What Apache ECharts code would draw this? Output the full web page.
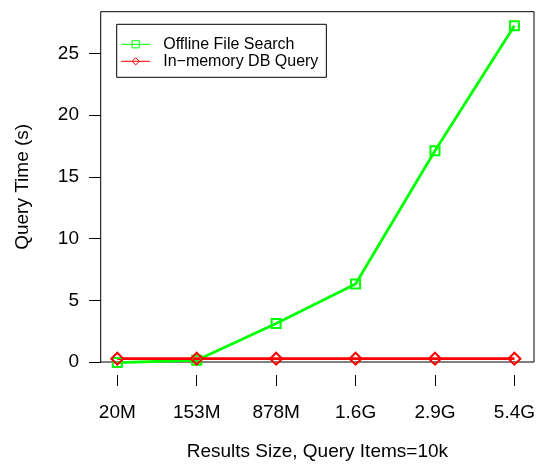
<!DOCTYPE html>
<html>
<head>
<meta charset="utf-8">
<script src="https://cdn.jsdelivr.net/npm/echarts@6/dist/echarts.min.js"></script>
<style>
html,body{margin:0;padding:0;background:#fff;}
#chart{width:538px;height:466px;}
</style>
</head>
<body>
<div id="chart"></div>
<script>
var categories = ['20M', '153M', '878M', '1.6G', '2.9G', '5.4G'];
var offlineFileSearch = [-0.05, 0.14, 3.12, 6.32, 17.12, 27.25];
var inMemoryDbQuery = [0.27, 0.27, 0.27, 0.27, 0.27, 0.27];
var seriesNames = ['Offline File Search', 'In\u2212memory DB Query'];
var yTicks = [0, 25, 5]; // min, max, interval

var FONT = 'Liberation Sans, Arial, Helvetica, sans-serif';
var chart = echarts.init(document.getElementById('chart'), null, {renderer: 'canvas'});

var hiddenAxisBase = {
  axisLine: {show: false}, axisTick: {show: false},
  axisLabel: {show: false}, splitLine: {show: false}
};

chart.setOption({
  animation: false,
  backgroundColor: '#fff',
  textStyle: {fontFamily: FONT},
  grid: [
    {left: 100.7, top: 11.7, right: 4, bottom: 91, show: true,
     borderColor: '#000', borderWidth: 1, backgroundColor: 'transparent'},
    {left: 117.3, top: 53.5, right: 19.7, bottom: 104}
  ],
  legend: {
    orient: 'vertical',
    left: 116.7, top: 24.3,
    borderColor: '#000', borderWidth: 1, borderRadius: 0,
    padding: [12, 8, 8, 4],
    itemWidth: 29, itemHeight: 9, itemGap: 1,
    textStyle: {fontSize: 16, color: '#000', fontFamily: FONT, padding: [0, 0, 0, 8]},
    lineStyle: {width: 1},
    itemStyle: {borderWidth: 1},
    data: seriesNames
  },
  xAxis: [
    Object.assign({gridIndex: 0, type: 'value', min: 0, max: 1,
      name: 'Results Size, Query Items=10k', nameLocation: 'middle', nameGap: 80,
      nameTextStyle: {fontSize: 19, color: '#000', fontFamily: FONT}}, hiddenAxisBase),
    {gridIndex: 1, type: 'category', data: categories, boundaryGap: false, offset: 13,
      axisLine: {show: false, onZero: false},
      axisTick: {show: true, length: 11, lineStyle: {color: '#000', width: 1}, alignWithLabel: true},
      axisLabel: {fontSize: 19, color: '#000', margin: 28, interval: 0, fontFamily: FONT},
      splitLine: {show: false}}
  ],
  yAxis: [
    Object.assign({gridIndex: 0, type: 'value', min: 0, max: 1,
      name: 'Query Time (s)', nameLocation: 'middle', nameGap: 68,
      nameTextStyle: {fontSize: 19, color: '#000', fontFamily: FONT}}, hiddenAxisBase),
    {gridIndex: 1, type: 'value', min: yTicks[0], max: yTicks[1], interval: yTicks[2], offset: 16.3,
      axisLine: {show: false, onZero: false},
      axisTick: {show: true, length: 12, lineStyle: {color: '#000', width: 1}},
      axisLabel: {fontSize: 19, color: '#000', margin: 22, fontFamily: FONT},
      splitLine: {show: false}}
  ],
  series: [
    {name: seriesNames[0], type: 'line', xAxisIndex: 1, yAxisIndex: 1, data: offlineFileSearch,
     clip: false, symbol: 'rect', symbolSize: 9, showAllSymbol: true,
     lineStyle: {color: '#00ff00', width: 2.8},
     itemStyle: {color: 'rgba(0,0,0,0)', borderColor: '#00ff00', borderWidth: 2},
     emphasis: {disabled: true}},
    {name: seriesNames[1], type: 'line', xAxisIndex: 1, yAxisIndex: 1, data: inMemoryDbQuery,
     clip: false, symbol: 'diamond', symbolSize: 12, showAllSymbol: true,
     lineStyle: {color: '#ff0000', width: 2.8},
     itemStyle: {color: 'rgba(0,0,0,0)', borderColor: '#ff0000', borderWidth: 2},
     emphasis: {disabled: true}}
  ]
});
</script>
</body>
</html>
